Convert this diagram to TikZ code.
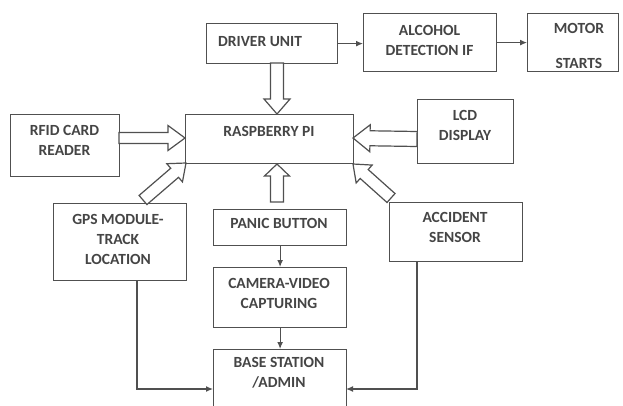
\documentclass[tikz,border=0pt]{standalone}
\usepackage{fontspec}
\setmainfont{Carlito}
\usetikzlibrary{calc,arrows.meta}
\definecolor{ln}{HTML}{505050}
\definecolor{tx}{HTML}{454545}
\tikzset{
  box/.style={draw=ln, line width=1.2pt, fill=white, inner sep=0pt, anchor=north west},
  txt/.style={text=tx, font=\fontsize{15.5}{20}\selectfont\bfseries, align=center, inner sep=0pt},
  arr/.style={draw=ln, line width=1.2pt, -{Latex[length=7pt,width=6pt]}},
  blk/.style={draw=ln, line width=1.2pt, fill=white, line join=miter},
}
% block (hollow) arrow: from, to, shaft half width, head half width, head length
\newcommand\blockarr[5]{%
  \coordinate (hb) at ($(#2)!#5!(#1)$);
  \draw[blk] ($(#1)!#3!90:(#2)$) -- ($(hb)!#3!90:(#2)$) -- ($(hb)!#4!90:(#2)$) -- (#2)
    -- ($(hb)!#4!-90:(#2)$) -- ($(hb)!#3!-90:(#2)$) -- ($(#1)!#3!-90:(#2)$) -- cycle;}
\begin{document}
\begin{tikzpicture}[x=1pt,y=-1pt]
\useasboundingbox (0,0) rectangle (623,405);
\fill[white] (0,0) rectangle (623,405);

% boxes
\node[box, minimum width=131pt, minimum height=40pt] (driver) at (206,23) {};
\node[box, minimum width=133pt, minimum height=58pt] (alcohol) at (363,13) {};
\node[box, minimum width=91pt, minimum height=58pt] (motor) at (527,13) {};
\node[box, minimum width=109pt, minimum height=62pt] (rfid) at (10,114) {};
\node[box, minimum width=168pt, minimum height=49pt] (rpi) at (185,114) {};
\node[box, minimum width=96pt, minimum height=64pt] (lcd) at (417,99) {};
\node[box, minimum width=133pt, minimum height=77pt] (gps) at (53,203) {};
\node[box, minimum width=133pt, minimum height=36pt] (panic) at (213,209) {};
\node[box, minimum width=133pt, minimum height=60pt] (camera) at (213,267) {};
\node[box, minimum width=133pt, minimum height=63pt] (base) at (213,349) {};
\node[box, minimum width=133pt, minimum height=59pt] (accident) at (389,202) {};

% texts
\node[txt, anchor=west] (tdriver) at (218,42) {DRIVER UNIT};
\node[txt] (talcohol) at (429.5,40.5) {ALCOHOL\\DETECTION IF};
\node[txt] (tmotor1) at (579,28) {MOTOR};
\node[txt] (tmotor2) at (579,63) {STARTS};
\node[txt] (trfid) at (64.5,140) {RFID CARD\\READER};
\node[txt] (trpi) at (269,131) {RASPBERRY PI};
\node[txt] (tlcd) at (465,125) {LCD\\DISPLAY};
\node[txt] (tgps) at (118,239) {GPS MODULE-\\TRACK\\LOCATION};
\node[txt] (tpanic) at (279,223) {PANIC BUTTON};
\node[txt] (tcamera) at (279,293) {CAMERA-VIDEO\\CAPTURING};
\node[txt] (tbase) at (279,373) {BASE STATION\\/ADMIN};
\node[txt] (taccident) at (455,227) {ACCIDENT\\SENSOR};

% thin connectors
\draw[arr] (driver.east) -- (driver.east -| alcohol.west);
\draw[arr] (alcohol.east) -- (motor.west);
\draw[arr] (panic.south) -- (camera.north);
\draw[arr] (camera.south) -- (base.north);
\coordinate (gpsout) at (137,280);
\coordinate (basel) at (213,389);
\coordinate (accout) at (417,261);
\coordinate (baser) at (346,389);
\draw[arr] (gpsout) |- (basel);
\draw[arr] (accout) |- (baser);

% hollow block arrows into the Raspberry Pi
\coordinate (d1) at (277,63);   \coordinate (d2) at (277,114);
\coordinate (r1) at (119,138);  \coordinate (r2) at (185,138);
\coordinate (l1) at (417,139);  \coordinate (l2) at (353,138);
\coordinate (p1) at (277,202);  \coordinate (p2) at (277,164);
\coordinate (g1) at (143,200);  \coordinate (g2) at (186,163);
\coordinate (c1) at (391,198);  \coordinate (c2) at (353,164);
\blockarr{d1}{d2}{6.5pt}{13pt}{15pt}
\blockarr{r1}{r2}{5.5pt}{12.5pt}{17pt}
\blockarr{l1}{l2}{7.5pt}{13.5pt}{17pt}
\blockarr{p1}{p2}{6.5pt}{12.5pt}{12pt}
\blockarr{g1}{g2}{6pt}{12pt}{15pt}
\blockarr{c1}{c2}{6pt}{12pt}{15pt}
\end{tikzpicture}
\end{document}
